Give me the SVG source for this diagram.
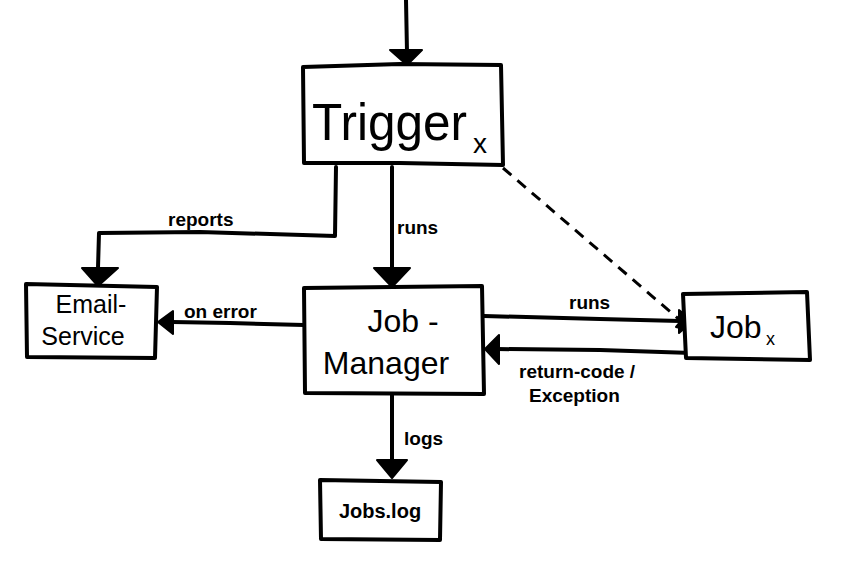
<svg xmlns="http://www.w3.org/2000/svg" width="846" height="584" viewBox="0 0 846 584">
<style>
.box{fill:#fff;stroke:#000;stroke-width:4;stroke-linejoin:round}
.ln{fill:none;stroke:#000;stroke-width:4;stroke-linecap:round;stroke-linejoin:round}
.dash{fill:none;stroke:#000;stroke-width:3;stroke-dasharray:11 8}
.ah{fill:#000;stroke:#000;stroke-width:2;stroke-linejoin:round}
.t{font-family:"Liberation Sans",Arial,sans-serif;fill:#000}
.lbl{font-family:"Liberation Sans",Arial,sans-serif;font-size:19px;font-weight:bold;fill:#000}
</style>
<rect width="846" height="584" fill="#fff"/>
<g id="connectors">
  <path class="ln" d="M406,0 L407,52"/>
  <path class="ah" d="M390,50 L422,50 L407,65 Z"/>
  <path class="ln" d="M336,167 L335,236 L200,232 L99,233 L98,268"/>
  <path class="ah" d="M82,268 L118,268 L98,286 Z"/>
  <text class="lbl" x="168" y="226">reports</text>
  <path class="ln" d="M392,167 L392,268"/>
  <path class="ah" d="M374,268 L410,268 L392,287 Z"/>
  <text class="lbl" x="397" y="234">runs</text>
  <path class="dash" d="M503,168 L681,321"/>
  <path class="ah" d="M676,327 L686,315 L693,331 Z"/>
  <path class="ln" d="M304,325 L230,323 L172,322"/>
  <path class="ah" d="M173,311 L173,334 L158,322 Z"/>
  <text class="lbl" x="184" y="318">on error</text>
  <path class="ln" d="M484,316 L600,319 L680,321"/>
  <path class="ah" d="M679,310 L693,321 L679,333 Z"/>
  <text class="lbl" x="569" y="309">runs</text>
  <path class="ln" d="M692,353 L600,350 L497,349"/>
  <path class="ah" d="M499,335 L499,364 L485,349 Z"/>
  <text class="lbl" x="519" y="378">return-code /</text>
  <text class="lbl" x="529" y="402">Exception</text>
  <path class="ln" d="M392,395 L392,460"/>
  <path class="ah" d="M377,460 L407,460 L392,478 Z"/>
  <text class="lbl" x="404" y="445">logs</text>
</g>
<g id="trigger">
  <path class="box" d="M303,67 L400,64 L501,65 L503,165 L400,163 L304,163 Z"/>
  <text class="t" x="312" y="140" font-size="52" textLength="155" lengthAdjust="spacingAndGlyphs">Trigger</text>
  <text class="t" x="473" y="153" font-size="28">x</text>
</g>
<g id="email-service">
  <path class="box" d="M26,284 L157,287 L155,358 L27,357 Z"/>
  <text class="t" x="91" y="313" font-size="25" text-anchor="middle">Email-</text>
  <text class="t" x="83" y="345" font-size="25" text-anchor="middle">Service</text>
</g>
<g id="job-manager">
  <path class="box" d="M304,288 L482,286 L484,394 L305,393 Z"/>
  <text class="t" x="403" y="332" font-size="32" text-anchor="middle">Job -</text>
  <text class="t" x="386" y="374" font-size="32" text-anchor="middle">Manager</text>
</g>
<g id="job-x">
  <path class="box" d="M683,294 L807,292 L810,360 L686,358 Z"/>
  <text class="t" x="710" y="338" font-size="32">Job</text>
  <text class="t" x="766" y="345" font-size="18">x</text>
</g>
<g id="jobs-log">
  <path class="box" d="M320,480 L441,482 L440,540 L321,539 Z"/>
  <text class="t" x="380" y="518" font-size="20" font-weight="bold" text-anchor="middle">Jobs.log</text>
</g>
</svg>
